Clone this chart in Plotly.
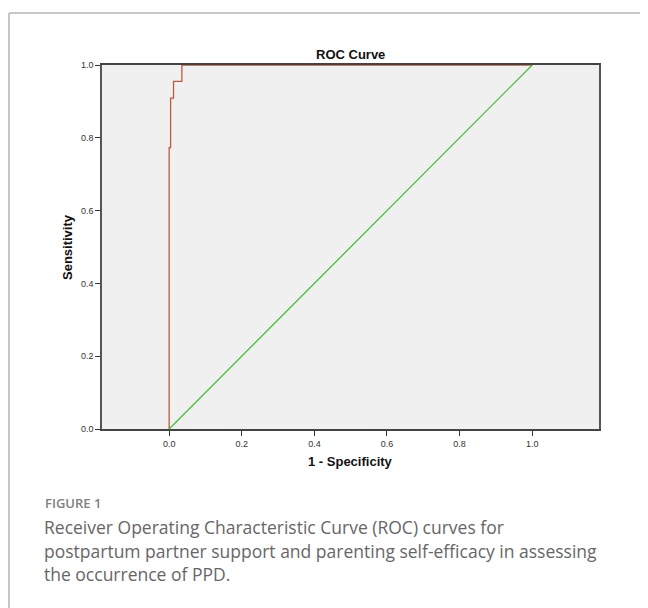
import plotly.graph_objects as go

# ---- data ----
roc_fpr = [0.0, 0.0, 0.004, 0.012, 0.035, 1.0]
roc_tpr = [0.0, 0.773, 0.909, 0.955, 1.0, 1.0]
ref_x = [0.0, 1.0]
ref_y = [0.0, 1.0]
tick_vals = [0.0, 0.2, 0.4, 0.6, 0.8, 1.0]
tick_text = ["0.0", "0.2", "0.4", "0.6", "0.8", "1.0"]

title_text = "ROC Curve"
x_title = "1 - Specificity"
y_title = "Sensitivity"
fig_label = "FIGURE 1"
caption_lines = [
    "Receiver Operating Characteristic Curve (ROC) curves for",
    "postpartum partner support and parenting self-efficacy in assessing",
    "the occurrence of PPD.",
]

# ---- layout geometry (page pixels; the page body adds an 8px offset) ----
OFF = 8
W, H = 648, 608
L, R, T, B = 102 - OFF, 599 - OFF, 65 - OFF, 429 - OFF
pw, ph = R - L, B - T


def px(x):
    return (x - OFF - L) / pw


def py(y):
    return (B - (y - OFF)) / ph


fig = go.Figure()
fig.add_trace(go.Scatter(x=roc_fpr, y=roc_tpr, mode="lines", line_shape="hv",
                         line=dict(color="#c1583d", width=1.3), hoverinfo="skip"))
fig.add_trace(go.Scatter(x=ref_x, y=ref_y, mode="lines",
                         line=dict(color="#3dbb2e", width=1.2), hoverinfo="skip"))

chart_font = "Liberation Sans, Arial, sans-serif"
cap_font = "Open Sans, Noto Sans, sans-serif"

fig.update_layout(
    width=W, height=H,
    margin=dict(l=L, r=W - R, t=T, b=H - B, pad=0),
    paper_bgcolor="white",
    plot_bgcolor="#f0f0f0",
    showlegend=False,
    font=dict(family=chart_font, color="#333333", size=9),
)
fig.update_xaxes(range=[-0.185, 1.184], tickvals=tick_vals, ticktext=tick_text,
                 ticks="outside", ticklen=5, tickwidth=1, tickcolor="#333333",
                 showline=True, linecolor="#444444", linewidth=1.5, mirror=True,
                 showgrid=False, zeroline=False,
                 tickfont=dict(size=9, color="#333333", family=chart_font))
fig.update_yaxes(range=[0, 1], tickvals=tick_vals, ticktext=tick_text,
                 ticks="outside", ticklen=5, tickwidth=1, tickcolor="#333333",
                 showline=True, linecolor="#555555", linewidth=1.5, mirror=True,
                 showgrid=False, zeroline=False,
                 tickfont=dict(size=9, color="#333333", family=chart_font))

# outer frame (open to right and bottom)
fig.add_shape(type="line", xref="paper", yref="paper",
              x0=px(9), x1=px(720), y0=py(13), y1=py(13),
              line=dict(color="#b4b4b4", width=1.5))
fig.add_shape(type="line", xref="paper", yref="paper",
              x0=px(9), x1=px(9), y0=py(13), y1=py(720),
              line=dict(color="#b4b4b4", width=1.5))

# titles
fig.add_annotation(xref="paper", yref="paper", x=0.5, y=py(54), text="<b>" + title_text + "</b>",
                   showarrow=False, xanchor="center", yanchor="middle",
                   font=dict(family=chart_font, size=13, color="#111111"))
fig.add_annotation(xref="paper", yref="paper", x=0.5, y=py(462), text="<b>" + x_title + "</b>",
                   showarrow=False, xanchor="center", yanchor="middle",
                   font=dict(family=chart_font, size=13, color="#111111"))
fig.add_annotation(xref="paper", yref="paper", x=px(67), y=py(247), text="<b>" + y_title + "</b>",
                   showarrow=False, xanchor="center", yanchor="middle", textangle=-90,
                   font=dict(family=chart_font, size=13, color="#111111"))

# caption
fig.add_annotation(xref="paper", yref="paper", x=px(43), y=py(503), text=fig_label,
                   showarrow=False, xanchor="left", yanchor="middle",
                   font=dict(family=cap_font, size=13, color="#808080", weight=600))
for i, line in enumerate(caption_lines):
    fig.add_annotation(xref="paper", yref="paper", x=px(42), y=py(527 + 23.5 * i), text=line,
                       showarrow=False, xanchor="left", yanchor="middle",
                       font=dict(family=cap_font, size=17.5, color="#666666"))

fig.write_html("out.html")
